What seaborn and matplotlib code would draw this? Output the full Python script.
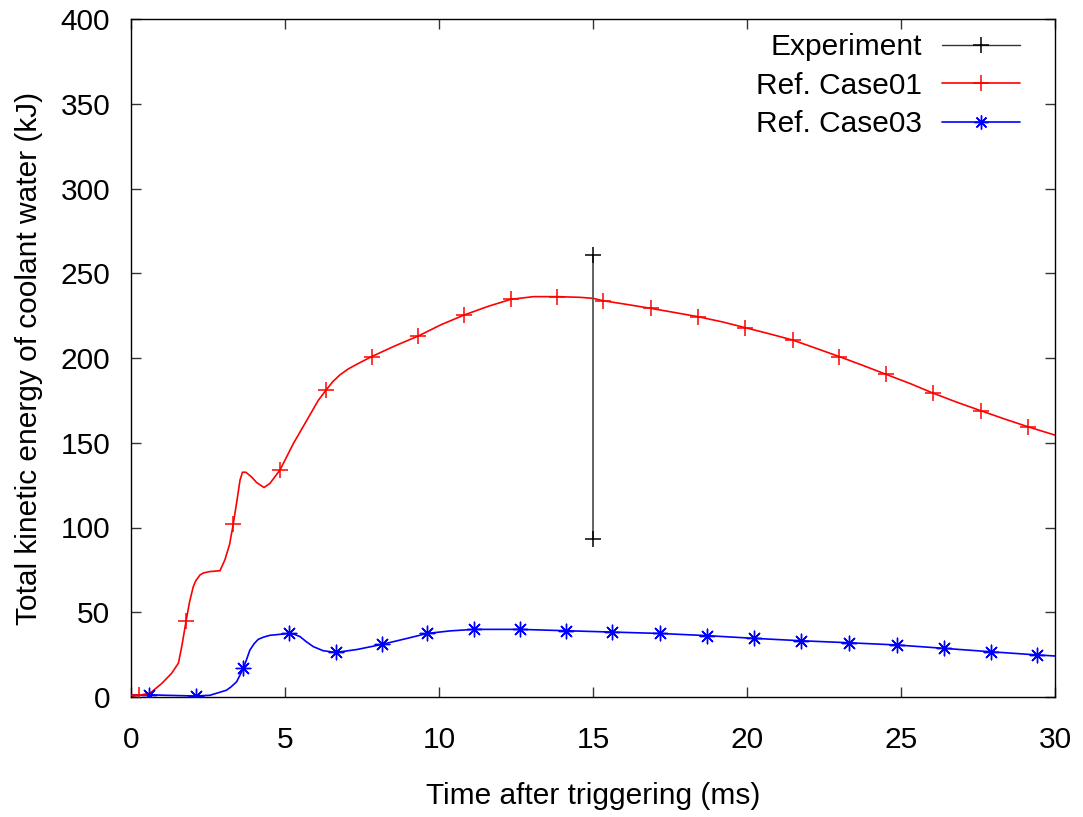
import numpy as np
import pandas as pd
import matplotlib
matplotlib.use("Agg")
import matplotlib.pyplot as plt
from matplotlib.lines import Line2D
import seaborn as sns

# Time axis (ms) and kinetic energy (kJ) of Ref. Case01
case01_t = [0.0, 0.27, 0.62, 1.0, 1.32, 1.54, 1.65, 1.79, 1.9, 2.02, 2.1, 2.24,
            2.35, 2.56, 2.89, 3.05, 3.2, 3.32, 3.45, 3.54, 3.62, 3.73, 3.92, 4.08,
            4.32, 4.51, 4.84, 5.27, 5.7, 6.08, 6.33, 6.55, 6.78, 7.05, 7.3, 7.81,
            8.55, 9.33, 10.05, 10.82, 11.6, 12.33, 13.07, 13.84, 14.57, 15.0,
            15.33, 16.1, 16.87, 17.6, 18.4, 19.2, 19.94, 20.7, 21.48, 22.2, 23.0,
            23.75, 24.51, 25.3, 26.05, 26.8, 27.59, 28.35, 29.11, 30.0]
case01_kj = [0.3, 1.0, 2.3, 8.0, 14.0, 20.0, 30.0, 45.0, 56.0, 65.0, 68.5, 72.0,
             73.2, 74.0, 74.5, 81.0, 90.0, 102.0, 117.0, 128.0, 132.6, 132.6,
             129.7, 126.5, 123.6, 126.0, 134.0, 149.5, 163.0, 175.0, 181.0, 186.0,
             190.0, 193.5, 196.0, 200.8, 207.0, 213.0, 219.5, 225.4, 230.5, 234.6,
             236.2, 236.2, 235.8, 235.2, 233.8, 231.6, 229.3, 227.0, 224.4, 221.3,
             217.9, 214.4, 210.6, 206.0, 200.8, 195.7, 190.4, 184.9, 179.2, 174.0,
             168.9, 164.1, 159.5, 154.5]
case01_mark_t = [0.27, 1.79, 3.32, 4.84, 6.33, 7.81, 9.33, 10.82, 12.33, 13.84,
                 15.33, 16.87, 18.4, 19.94, 21.48, 23.0, 24.51, 26.05, 27.59, 29.11]
case01_mark_kj = [1.0, 45.0, 102.0, 134.0, 181.0, 200.8, 213.0, 225.4, 234.6, 236.2,
                  233.8, 229.3, 224.4, 217.9, 210.6, 200.8, 190.4, 179.2, 168.9, 159.5]

# Ref. Case03
case03_t = [0.0, 0.6, 1.15, 2.1, 2.56, 3.1, 3.25, 3.43, 3.65, 3.75, 3.86, 4.0,
            4.13, 4.3, 4.51, 5.14, 5.3, 5.49, 5.7, 5.92, 6.24, 6.65, 7.33, 8.14,
            8.9, 9.62, 10.36, 11.13, 12.63, 14.12, 15.63, 17.16, 18.7, 20.23,
            21.74, 23.31, 24.86, 26.4, 27.91, 29.43, 30.0]
case03_kj = [1.2, 1.3, 1.0, 0.6, 1.0, 4.0, 6.0, 9.0, 17.0, 22.0, 27.7, 31.5,
             34.0, 35.3, 36.4, 37.5, 37.0, 35.6, 32.5, 29.7, 27.3, 26.3, 28.0,
             31.0, 34.3, 37.5, 39.0, 39.9, 39.9, 39.1, 38.3, 37.5, 36.2, 34.6,
             33.2, 32.0, 30.7, 28.7, 26.7, 24.8, 24.2]
case03_mark_t = [0.6, 2.1, 3.65, 5.14, 6.65, 8.14, 9.62, 11.13, 12.63, 14.12,
                 15.63, 17.16, 18.7, 20.23, 21.74, 23.31, 24.86, 26.4, 27.91, 29.43]
case03_mark_kj = [1.3, 0.6, 17.0, 37.5, 26.3, 31.0, 37.5, 39.9, 39.9, 39.1,
                  38.3, 37.5, 36.2, 34.6, 33.2, 32.0, 30.7, 28.7, 26.7, 24.8]

# Experimental range (min / max) at t = 15 ms
exp_t = [15.0, 15.0]
exp_kj = [93.0, 261.0]

x_ticks = [0, 5, 10, 15, 20, 25, 30]
y_ticks = [0, 50, 100, 150, 200, 250, 300, 350, 400]

sns.set_theme(style="ticks")
plt.rcParams["font.family"] = ["Liberation Sans", "DejaVu Sans"]
plt.rcParams["text.color"] = "black"
FS = 21.5

fig = plt.figure(figsize=(10.83, 8.17), dpi=100)
ax = fig.add_axes([131 / 1083, 1 - 697 / 817, 924 / 1083, 678 / 817])

exp_df = pd.DataFrame({"t": exp_t, "kj": exp_kj})
c01_df = pd.DataFrame({"t": case01_t, "kj": case01_kj})
c03_df = pd.DataFrame({"t": case03_t, "kj": case03_kj})

RED, BLUE, BLK = "#ff0000", "#0000ff", "#000000"
star = (8, 2, 0)

sns.lineplot(data=c03_df, x="t", y="kj", color=BLUE, lw=1.2, ax=ax,
             estimator=None, sort=False)
sns.scatterplot(x=case03_mark_t, y=case03_mark_kj, marker=star, s=110,
                color=BLUE, linewidth=1.0, ax=ax, legend=False, zorder=3)
sns.lineplot(data=c01_df, x="t", y="kj", color=RED, lw=1.2, ax=ax,
             estimator=None, sort=False)
sns.scatterplot(x=case01_mark_t, y=case01_mark_kj, marker="+", s=125,
                color=RED, linewidth=1.1, ax=ax, legend=False, zorder=3)
sns.lineplot(data=exp_df, x="t", y="kj", color="#555555", lw=1.3, ax=ax,
             estimator=None, sort=False)
sns.scatterplot(x=exp_t, y=exp_kj, marker="+", s=125, color=BLK,
                linewidth=1.1, ax=ax, legend=False, zorder=3)

ax.set_xlim(0, 30)
ax.set_ylim(0, 400)
ax.set_xticks(x_ticks)
ax.set_yticks(y_ticks)
ax.set_xticklabels([str(v) for v in x_ticks])
ax.set_yticklabels([str(v) for v in y_ticks])
ax.tick_params(direction="in", length=7, width=1, color="#333333",
               labelsize=FS, labelcolor="black", top=True, right=True)
ax.tick_params(axis="x", pad=21)
ax.tick_params(axis="y", pad=15)
for sp in ax.spines.values():
    sp.set_visible(True)
    sp.set_color("black")
    sp.set_linewidth(1.0)

ax.set_xlabel("Time after triggering (ms)", fontsize=FS, color="black")
ax.set_ylabel("Total kinetic energy of coolant water (kJ)", fontsize=FS, color="black")
ax.xaxis.set_label_coords(0.5, -0.125)
ax.yaxis.set_label_coords(-0.095, 0.5)

handles = [
    Line2D([], [], color="#333333", lw=1.0, marker="+", ms=11, mew=1.1, mec=BLK),
    Line2D([], [], color=RED, lw=1.2, marker="+", ms=11, mew=1.1),
    Line2D([], [], color=BLUE, lw=1.2, marker=star, ms=10, mew=1.0),
]
labels = ["Experiment", "Ref. Case01", "Ref. Case03"]
fig.legend(handles, labels, loc="upper right",
           bbox_to_anchor=(1020 / 1083, 1 - 33 / 817), bbox_transform=fig.transFigure,
           frameon=False, markerfirst=False, fontsize=FS, handlelength=2.6,
           handletextpad=0.67, labelspacing=0.36, borderpad=0, borderaxespad=0,
           numpoints=1)

fig.savefig("out.png", dpi=100)
